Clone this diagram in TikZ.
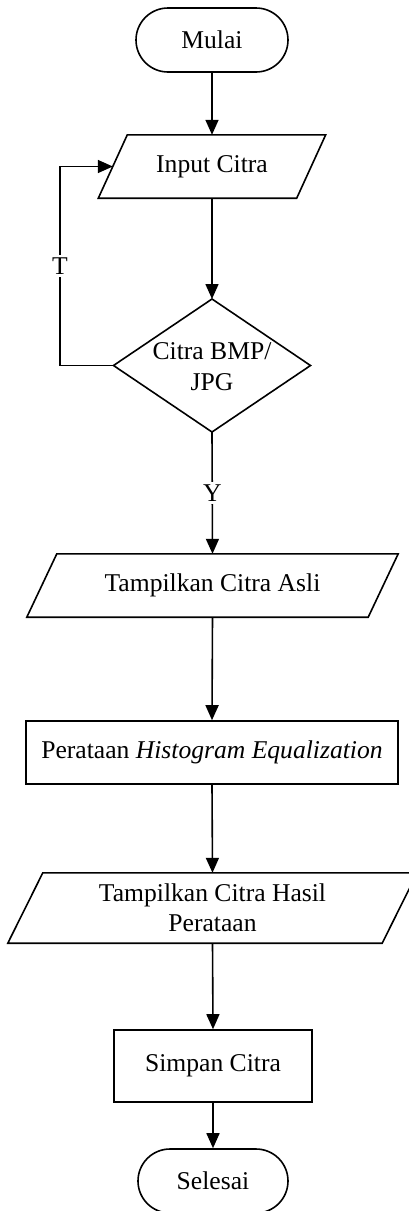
\documentclass[tikz,border=0pt]{standalone}
\usepackage{fontspec}
\setmainfont{Liberation Serif}
\usetikzlibrary{shapes.misc,arrows.meta,calc}
\newcommand\iopara[2]{\draw[line] ($(#1.north west)+(#2,0)$) -- ($(#1.north east)+(#2,0)$) -- ($(#1.south east)+(-#2,0)$) -- ($(#1.south west)+(-#2,0)$) -- cycle;}
\begin{document}
\begin{tikzpicture}[x=1pt,y=-1pt,
  every node/.style={font=\fontsize{25.6}{31}\selectfont},
  line/.style={line width=1.6pt},
  arr/.style={line, -{Triangle[length=15pt,width=13pt]}},
  term/.style={rounded rectangle, draw, line width=1.6pt, minimum width=152pt, minimum height=64pt, inner sep=0pt},
  proc/.style={rectangle, draw, line width=1.6pt, inner sep=0pt},
  iobox/.style={rectangle, inner sep=0pt, align=center},
  lbl/.style={fill=white, inner sep=3pt}]
\useasboundingbox (0,0) rectangle (409,1211);
\fill[white] (0,0) rectangle (409,1211);

\node[term] (start) at (212,40) {Mulai};
\node[iobox, minimum width=198pt, minimum height=63pt] (in) at (212,166.5) {Input Citra};
\iopara{in}{14.5}

\coordinate (dt) at (212,299);
\coordinate (dl) at (113.5,365.5);
\coordinate (dr) at (310.5,365.5);
\coordinate (db) at (212,432);
\draw[line] (dt) -- (dr) -- (db) -- (dl) -- cycle;
\node[align=center, inner sep=0pt] (dec) at (212,367) {Citra BMP/\\JPG};

\node[iobox, minimum width=341pt, minimum height=63pt] (asli) at (212.5,585.5) {Tampilkan Citra Asli};
\iopara{asli}{15}

\node[proc, minimum width=372pt, minimum height=63pt] (rata) at (212,752.5) {Perataan \textit{Histogram Equalization}};

\node[iobox, minimum width=374pt, minimum height=70pt] (hasil) at (212.5,908) {Tampilkan Citra Hasil\\[-1pt]Perataan};
\iopara{hasil}{17.5}

\node[proc, minimum width=198pt, minimum height=72pt] (simpan) at (213,1066) {Simpan Citra};
\node[term, minimum width=150pt] (end) at (213,1181) {Selesai};

\coordinate (lb) at (60,365.5);
\coordinate (lt) at (60,166.5);

\draw[arr] (start.south) -- (in.north);
\draw[arr] (in.south) -- (dt);
\draw[arr] (dl) -- (lb) -- node[lbl]{T} (lt) -- (in.west);
\draw[arr] (db) -- node[lbl]{Y} (asli.north);
\draw[arr] (asli.south) -- (rata.north);
\draw[arr] (rata.south) -- (hasil.north);
\draw[arr] (hasil.south) -- (simpan.north);
\draw[arr] (simpan.south) -- (end.north);
\end{tikzpicture}
\end{document}
